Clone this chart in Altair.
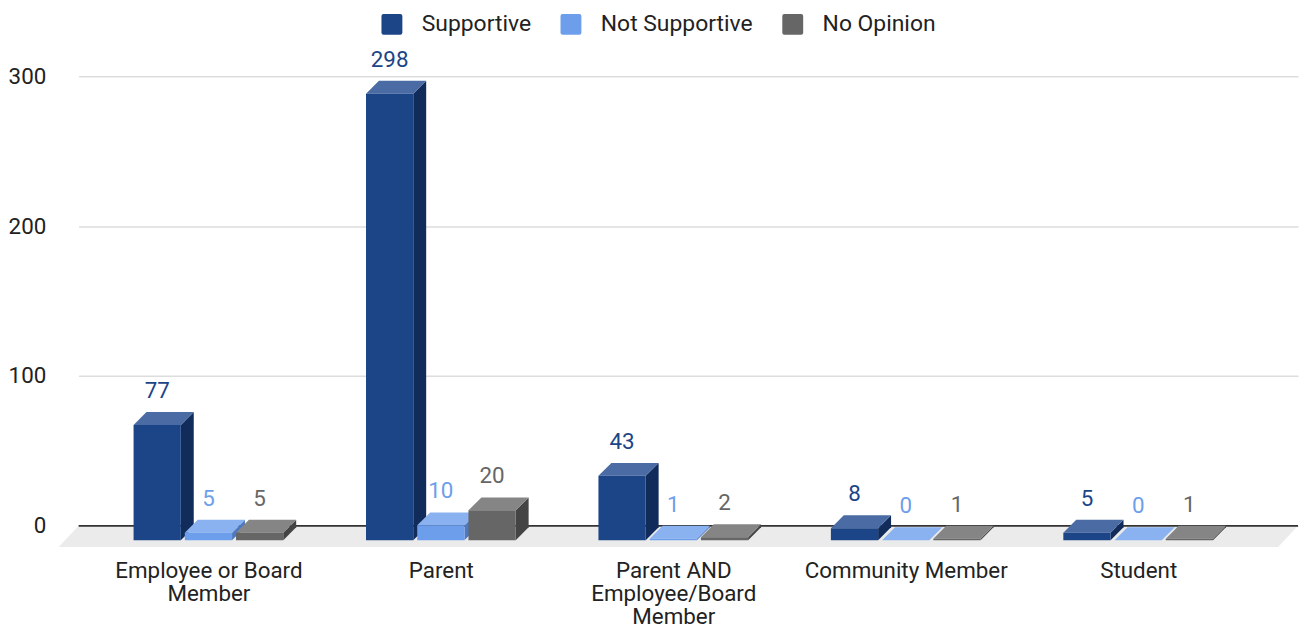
import json
import altair as alt
import pandas as pd

# ---------------- data ----------------
CATEGORIES = ["Employee or Board Member", "Parent", "Parent AND Employee/Board Member",
              "Community Member", "Student"]
TICK_LABELS = [["Employee or Board", "Member"], ["Parent"],
               ["Parent AND", "Employee/Board", "Member"], ["Community Member"], ["Student"]]
SERIES = ["Supportive", "Not Supportive", "No Opinion"]
SUPPORTIVE = [77, 298, 43, 8, 5]
NOT_SUPPORTIVE = [5, 10, 1, 0, 0]
NO_OPINION = [5, 20, 2, 1, 1]
Y_TICKS = [0, 100, 200, 300]

# ---------------- style ----------------
FRONT_COLORS = ["#1c4587", "#6d9eeb", "#666666"]
TOP_COLORS = ["#4a6ba3", "#8ab1f0", "#858585"]
SIDE_COLORS = ["#112c5b", "#4c79c2", "#444444"]
FONT = "Roboto"
TEXT_COLOR = "#222222"

W, H = 1226, 452
PX_X = 1 / 233.7          # x units per pixel (one category ~ 234 px)
PX_Y = 300.0 / H          # y units per pixel
XMIN, XMAX = -130.5 * PX_X, 1095.5 * PX_X
STRIDE = 51.5 * PX_X
BAR_W = 47.5 * PX_X
DX, DY = 13 * PX_X, 13 * PX_Y          # 3D depth
DROP = 14.5                             # front face drop (px)
FLOOR_DX, FLOOR_DY = 20 * PX_X, 21.3 * PX_Y

bars, side, top = [], [], []
for k, (s, vals) in enumerate(zip(SERIES, [SUPPORTIVE, NOT_SUPPORTIVE, NO_OPINION])):
    for i, v in enumerate(vals):
        c = i + (k - 1) * STRIDE
        x0, x1 = c - BAR_W / 2, c + BAR_W / 2
        bid = f"{i}-{k}"
        bars.append(dict(series=s, cat=CATEGORIES[i], value=v, x0=x0, x1=x1, xc=c, label=str(v)))
        side.append(dict(series=s, bid=bid, x=x1, y=v, y2=0))
        side.append(dict(series=s, bid=bid, x=x1 + DX, y=v + DY, y2=DY))
        top.append(dict(series=s, bid=bid, y=v, xa=x0, xb=x1))
        top.append(dict(series=s, bid=bid, y=v + DY, xa=x0 + DX, xb=x1 + DX))

bars_df = pd.DataFrame(bars)
side_df = pd.DataFrame(side)
top_df = pd.DataFrame(top)
floor_df = pd.DataFrame({"y": [0, -FLOOR_DY], "xa": [XMIN, XMIN - FLOOR_DX],
                         "xb": [XMAX, XMAX - FLOOR_DX]})
base_df = pd.DataFrame({"y": [0], "xa": [XMIN], "xb": [XMAX]})

xs = alt.Scale(domain=[XMIN, XMAX], nice=False, zero=False)
ys = alt.Scale(domain=[0, 300], nice=False, zero=False)
label_expr = json.dumps(TICK_LABELS) + "[round(datum.value)]"
xaxis = alt.Axis(values=list(range(len(CATEGORIES))), labelExpr=label_expr, title=None,
                 grid=False, domain=False, ticks=False, labelPadding=34,
                 labelFontSize=22.5, labelFont=FONT, labelColor=TEXT_COLOR,
                 labelLineHeight=23, labelFlush=False, labelOverlap=False, labelLimit=0)
yaxis = alt.Axis(values=Y_TICKS, title=None, grid=True, gridColor="#cccccc", gridWidth=1,
                 domain=False, ticks=False, labelPadding=33, labelFontSize=22.5,
                 labelFont=FONT, labelColor=TEXT_COLOR)

ROUND_SQ = ("M-0.8,-1L0.8,-1Q1,-1 1,-0.8L1,0.8Q1,1 0.8,1"
            "L-0.8,1Q-1,1 -1,0.8L-1,-0.8Q-1,-1 -0.8,-1Z")

floor = alt.Chart(floor_df).mark_area(orient="horizontal", color="#ebebeb").encode(
    y=alt.Y("y:Q", scale=ys, axis=yaxis),
    x=alt.X("xa:Q", scale=xs, axis=xaxis),
    x2="xb:Q",
)
baseline = alt.Chart(base_df).mark_rule(color="#333333", strokeWidth=2).encode(
    y=alt.Y("y:Q", scale=ys, axis=yaxis),
    x=alt.X("xa:Q", scale=xs, axis=xaxis),
    x2="xb:Q",
)
side_l = alt.Chart(side_df).mark_area(orient="vertical", yOffset=DROP, y2Offset=DROP).encode(
    x=alt.X("x:Q", scale=xs, axis=xaxis),
    y=alt.Y("y:Q", scale=ys, axis=yaxis),
    y2="y2:Q",
    detail="bid:N",
    color=alt.Color("series:N", scale=alt.Scale(domain=SERIES, range=SIDE_COLORS), legend=None),
)
top_l = alt.Chart(top_df).mark_area(orient="horizontal", yOffset=DROP).encode(
    y=alt.Y("y:Q", scale=ys, axis=yaxis),
    x=alt.X("xa:Q", scale=xs, axis=xaxis),
    x2="xb:Q",
    detail="bid:N",
    color=alt.Color("series:N", scale=alt.Scale(domain=SERIES, range=TOP_COLORS), legend=None),
)
front = alt.Chart(bars_df).mark_rect(yOffset=DROP, y2Offset=DROP).encode(
    x=alt.X("x0:Q", scale=xs, axis=xaxis),
    x2="x1:Q",
    y=alt.Y("value:Q", scale=ys, axis=yaxis),
    y2=alt.Y2(datum=0),
    color=alt.Color("series:N", scale=alt.Scale(domain=SERIES, range=FRONT_COLORS),
                    legend=alt.Legend(orient="none", legendX=303.5, legendY=-64,
                                      direction="horizontal", title=None,
                                      symbolType=ROUND_SQ, symbolSize=441,
                                      symbolStrokeWidth=0, symbolOpacity=1,
                                      labelFontSize=23, labelFont=FONT,
                                      labelColor=TEXT_COLOR, labelOffset=18.5,
                                      columnPadding=28, padding=0, labelLimit=0)),
)
labels = alt.Chart(bars_df).mark_text(dy=-12.5, baseline="alphabetic", fontSize=22.5,
                                      font=FONT).encode(
    x=alt.X("xc:Q", scale=xs, axis=xaxis),
    y=alt.Y("value:Q", scale=ys, axis=yaxis),
    text="label:N",
    color=alt.Color("series:N", scale=alt.Scale(domain=SERIES, range=FRONT_COLORS), legend=None),
)

chart = alt.layer(floor, baseline, side_l, top_l, front, labels).resolve_scale(
    color="independent"
).properties(
    width=W, height=H,
    autosize=alt.AutoSizeParams(type="none"),
    padding={"left": 71, "top": 67, "right": 1, "bottom": 100},
    background="white",
).configure_view(stroke=None)

chart.save("out.html", embed_options={"renderer": "svg", "actions": False})
